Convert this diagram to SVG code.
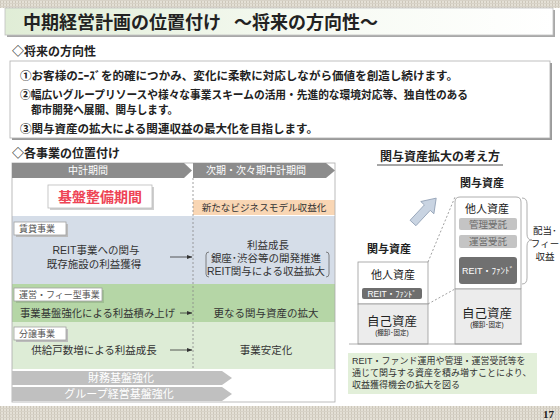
<svg xmlns="http://www.w3.org/2000/svg" width="560" height="420" viewBox="0 0 560 420">
<defs>
<style>
text{font-family:'Liberation Sans','Noto Sans CJK JP',sans-serif;fill:#222}
.b{font-weight:bold}
.c{text-anchor:middle}
.w{fill:#fff}
.lab{fill:#fff;stroke:#a0a0a0;stroke-width:0.8}
.labt{font-size:9px;fill:#555}
.body{font-size:10.5px;fill:#333}
.dash{stroke:#888;stroke-width:0.8;stroke-dasharray:2 2;fill:none}
.arr{stroke:#333;stroke-width:0.8;marker-end:url(#ar)}
.stk{stroke:#999;stroke-width:0.8}
.note{font-size:9px;fill:#333}
</style>
<pattern id="tex" width="3" height="3" patternUnits="userSpaceOnUse"><rect width="3" height="3" fill="#e4e0d6"/><rect width="1" height="3" fill="#cdc7ba"/><rect width="3" height="1" fill="#d7d2c7"/></pattern>
<linearGradient id="tg" x1="0" x2="1" y1="0" y2="0"><stop offset="0" stop-color="#e0edd6"/><stop offset="0.55" stop-color="#f6faf2"/><stop offset="1" stop-color="#ffffff"/></linearGradient>
<marker id="ar" markerWidth="6" markerHeight="6" refX="5.5" refY="3" orient="auto" markerUnits="userSpaceOnUse"><path d="M0,0.8 L6,3 L0,5.2 z" fill="#333"/></marker>
</defs>
<rect width="560" height="420" fill="#fff"/>
<rect x="0" y="0" width="560" height="8" fill="url(#tex)"/>
<rect x="0" y="406" width="560" height="14" fill="url(#tex)"/>
<text x="554" y="418" class="b" style="font-family:'Liberation Serif',serif;font-size:11px;text-anchor:end">17</text>

<g id="title">
<rect x="7" y="10" width="548" height="27" fill="#a8a8a8"/>
<rect x="5" y="8" width="548" height="27" fill="url(#tg)" stroke="#c0c0c0" stroke-width="0.8"/>
<text x="23" y="29" class="b" style="font-size:18px">中期経営計画の位置付け<tspan x="234">～将来の方向性～</tspan></text>
</g>

<g id="directions">
<text x="12" y="56" class="b" style="font-size:12px">◇将来の方向性</text>
<rect x="12" y="63" width="540" height="77" fill="#9a9a9a"/>
<rect x="10" y="61" width="540" height="77" fill="#fff" stroke="#b0b0b0" stroke-width="0.8"/>
<g class="b" style="font-size:11.5px">
<text x="20" y="80" textLength="438" lengthAdjust="spacingAndGlyphs">①お客様のﾆｰｽﾞを的確につかみ、変化に柔軟に対応しながら価値を創造し続けます。</text>
<text x="20" y="99" textLength="448" lengthAdjust="spacingAndGlyphs">②幅広いグループリソースや様々な事業スキームの活用・先進的な環境対応等、独自性のある</text>
<text x="31" y="114" textLength="147" lengthAdjust="spacingAndGlyphs">都市開発へ展開、関与します。</text>
<text x="20" y="133" textLength="298" lengthAdjust="spacingAndGlyphs">③関与資産の拡大による関連収益の最大化を目指します。</text>
</g>
</g>

<g id="positioning">
<text x="12" y="158" class="b" style="font-size:12px">◇各事業の位置付け</text>
<rect x="12" y="163" width="323" height="239" fill="#fff"/>
<rect x="193" y="200" width="142" height="15" fill="#f9d6b4"/>
<rect x="12" y="216" width="323" height="68" fill="#d5dde8"/>
<rect x="12" y="284" width="323" height="38" fill="#b5d6a6"/>
<rect x="12" y="322" width="323" height="47" fill="#ddecd6"/>
<rect x="12" y="163" width="323" height="239" fill="none" stroke="#aaa" stroke-width="0.8"/>
</g>

<g id="period-current">
<polygon points="12,163 184,163 192,170.5 184,178 12,178" fill="#8c8c8c"/>
<text x="88" y="174" class="c w" style="font-size:10px">中計期間</text>
</g>
<g id="period-next">
<polygon points="193,163 326,163 335,170.5 326,178 193,178" fill="#8c8c8c"/>
<text x="256" y="174" class="c w" style="font-size:10px">次期・次々期中計期間</text>
</g>

<g id="kiban">
<rect x="50" y="187" width="104" height="23" fill="#cfcfcf"/>
<rect x="48" y="185" width="104" height="23" fill="#fff" stroke="#bbb" stroke-width="0.8"/>
<text x="100" y="202" class="c b" style="font-size:14px;fill:#ee4455">基盤整備期間</text>
</g>
<g id="new-model">
<text x="264" y="211" class="c" style="font-size:9.6px;fill:#333">新たなビジネスモデル収益化</text>
</g>

<g id="chintai">
<rect x="16" y="224" width="52" height="13" fill="#bbb"/>
<rect x="14" y="222" width="52" height="13" class="lab"/>
<text x="19" y="232" class="labt">賃貸事業</text>
<text x="96" y="254" class="c body">REIT事業への関与</text>
<text x="94" y="268" class="c body">既存施設の利益獲得</text>
</g>
<g id="chintai-next">
<text x="268" y="249" class="c body">利益成長</text>
<text x="266" y="262" class="c body">銀座･渋谷等の開発推進</text>
<text x="266" y="275" class="c body">REIT関与による収益拡大</text>
<path d="M209,252 Q206,252 206,255 L206,274 Q206,277 209,277" fill="none" stroke="#666" stroke-width="0.8"/>
<path d="M326,252 Q329,252 329,255 L329,274 Q329,277 326,277" fill="none" stroke="#666" stroke-width="0.8"/>
</g>

<g id="fee">
<rect x="16" y="290" width="88" height="13" fill="#9fbf92"/>
<rect x="14" y="288" width="88" height="13" class="lab"/>
<text x="19" y="298" class="labt">運営・フィー型事業</text>
<text x="20" y="317" class="body" textLength="155" lengthAdjust="spacingAndGlyphs">事業基盤強化による利益積み上げ</text>
</g>
<g id="fee-next">
<text x="266" y="317" class="c body">更なる関与資産の拡大</text>
</g>

<g id="bunjo">
<rect x="16" y="329" width="52" height="13" fill="#bbb"/>
<rect x="14" y="327" width="52" height="13" class="lab"/>
<text x="19" y="337" class="labt">分譲事業</text>
<text x="94" y="354" class="c body">供給戸数増による利益成長</text>
</g>
<g id="bunjo-next">
<text x="266" y="354" class="c body">事業安定化</text>
</g>

<g id="finance">
<polygon points="12,371 222,371 232,378 222,385 12,385" fill="#c0c0c0"/>
<text x="121" y="382" class="c w" style="font-size:11px">財務基盤強化</text>
</g>
<g id="group">
<polygon points="12,387 222,387 232,394 222,401 12,401" fill="#c0c0c0"/>
<text x="119" y="398" class="c w" style="font-size:11px">グループ経営基盤強化</text>
</g>

<g id="connectors">
<line x1="193" y1="178" x2="193" y2="370" class="dash"/>
<line x1="170" y1="257" x2="192" y2="257" class="arr"/>
<line x1="180" y1="313" x2="192" y2="313" class="arr"/>
<line x1="170" y1="350" x2="192" y2="350" class="arr"/>
<line x1="428" y1="262" x2="455" y2="197" class="dash"/>
<line x1="428" y1="304" x2="455" y2="289" class="dash"/>
<polygon points="0,-4 21,-4 21,-9 34,0 21,9 21,4 0,4" transform="translate(413,223) rotate(-47)" fill="#c9d4e2" stroke="#8d9db2" stroke-width="0.8"/>
</g>

<g id="expansion-title">
<text x="440" y="161" class="c b" style="font-size:12px">関与資産拡大の考え方</text>
<line x1="377" y1="165" x2="503" y2="165" stroke="#222" stroke-width="0.8"/>
</g>

<g id="stack-small">
<text x="389" y="253" class="c b" style="font-size:11px">関与資産</text>
<rect x="358" y="262" width="70" height="42" fill="#fff" class="stk"/>
<rect x="358" y="304" width="70" height="40" fill="#ececec" class="stk"/>
<text x="393" y="279" class="c" style="font-size:11px">他人資産</text>
<rect x="362" y="288" width="60" height="11" rx="2" fill="#6e6e6e"/>
<text x="392" y="296.5" class="c w" style="font-size:8.5px">REIT・ﾌｧﾝﾄﾞ</text>
<text x="392" y="326" class="c" style="font-size:12.5px">自己資産</text>
<text x="392" y="335" class="c" style="font-size:6.5px">(棚卸･固定)</text>
</g>

<g id="stack-large">
<text x="482" y="187" class="c b" style="font-size:11px">関与資産</text>
<path d="M455,289 L455,202 Q455,197 460,197 L516,197 Q521,197 521,202 L521,289 Z" fill="#fff" class="stk"/>
<rect x="455" y="289" width="66" height="55" fill="#ececec" class="stk"/>
<text x="487" y="213" class="c" style="font-size:11px">他人資産</text>
<rect x="459" y="218" width="58" height="12" rx="2" fill="#c4c4c4"/>
<text x="488" y="227.5" class="c" style="font-size:9.5px;fill:#6a6a6a">管理受託</text>
<rect x="459" y="235" width="58" height="13" rx="2" fill="#c4c4c4"/>
<text x="488" y="245" class="c" style="font-size:9.5px;fill:#6a6a6a">運営受託</text>
<rect x="459" y="257" width="58" height="27" rx="3" fill="#707070"/>
<text x="488" y="274" class="c w" style="font-size:9px">REIT・ﾌｧﾝﾄﾞ</text>
<text x="487" y="318" class="c" style="font-size:12.5px">自己資産</text>
<text x="487" y="327" class="c" style="font-size:6.5px">(棚卸･固定)</text>
<line x1="349" y1="344" x2="522" y2="344" stroke="#999" stroke-width="0.8"/>
</g>

<g id="fee-income">
<path d="M522,198 Q527,198 527,204 L527,234 Q527,240 532,240 Q527,240 527,246 L527,278 Q527,284 522,284" fill="none" stroke="#999" stroke-width="0.8"/>
<text x="545" y="234" class="c" style="font-size:9.5px">配当･</text>
<text x="545" y="247" class="c" style="font-size:9.5px">フィー</text>
<text x="545" y="260" class="c" style="font-size:9.5px">収益</text>
</g>

<g id="note">
<rect x="348" y="353" width="189" height="41" fill="#e2efd9"/>
<text x="352" y="364" class="note">REIT・ファンド運用や管理・運営受託等を</text>
<text x="352" y="376" class="note">通じて関与する資産を積み増すことにより、</text>
<text x="352" y="388" class="note">収益獲得機会の拡大を図る</text>
</g>
</svg>
